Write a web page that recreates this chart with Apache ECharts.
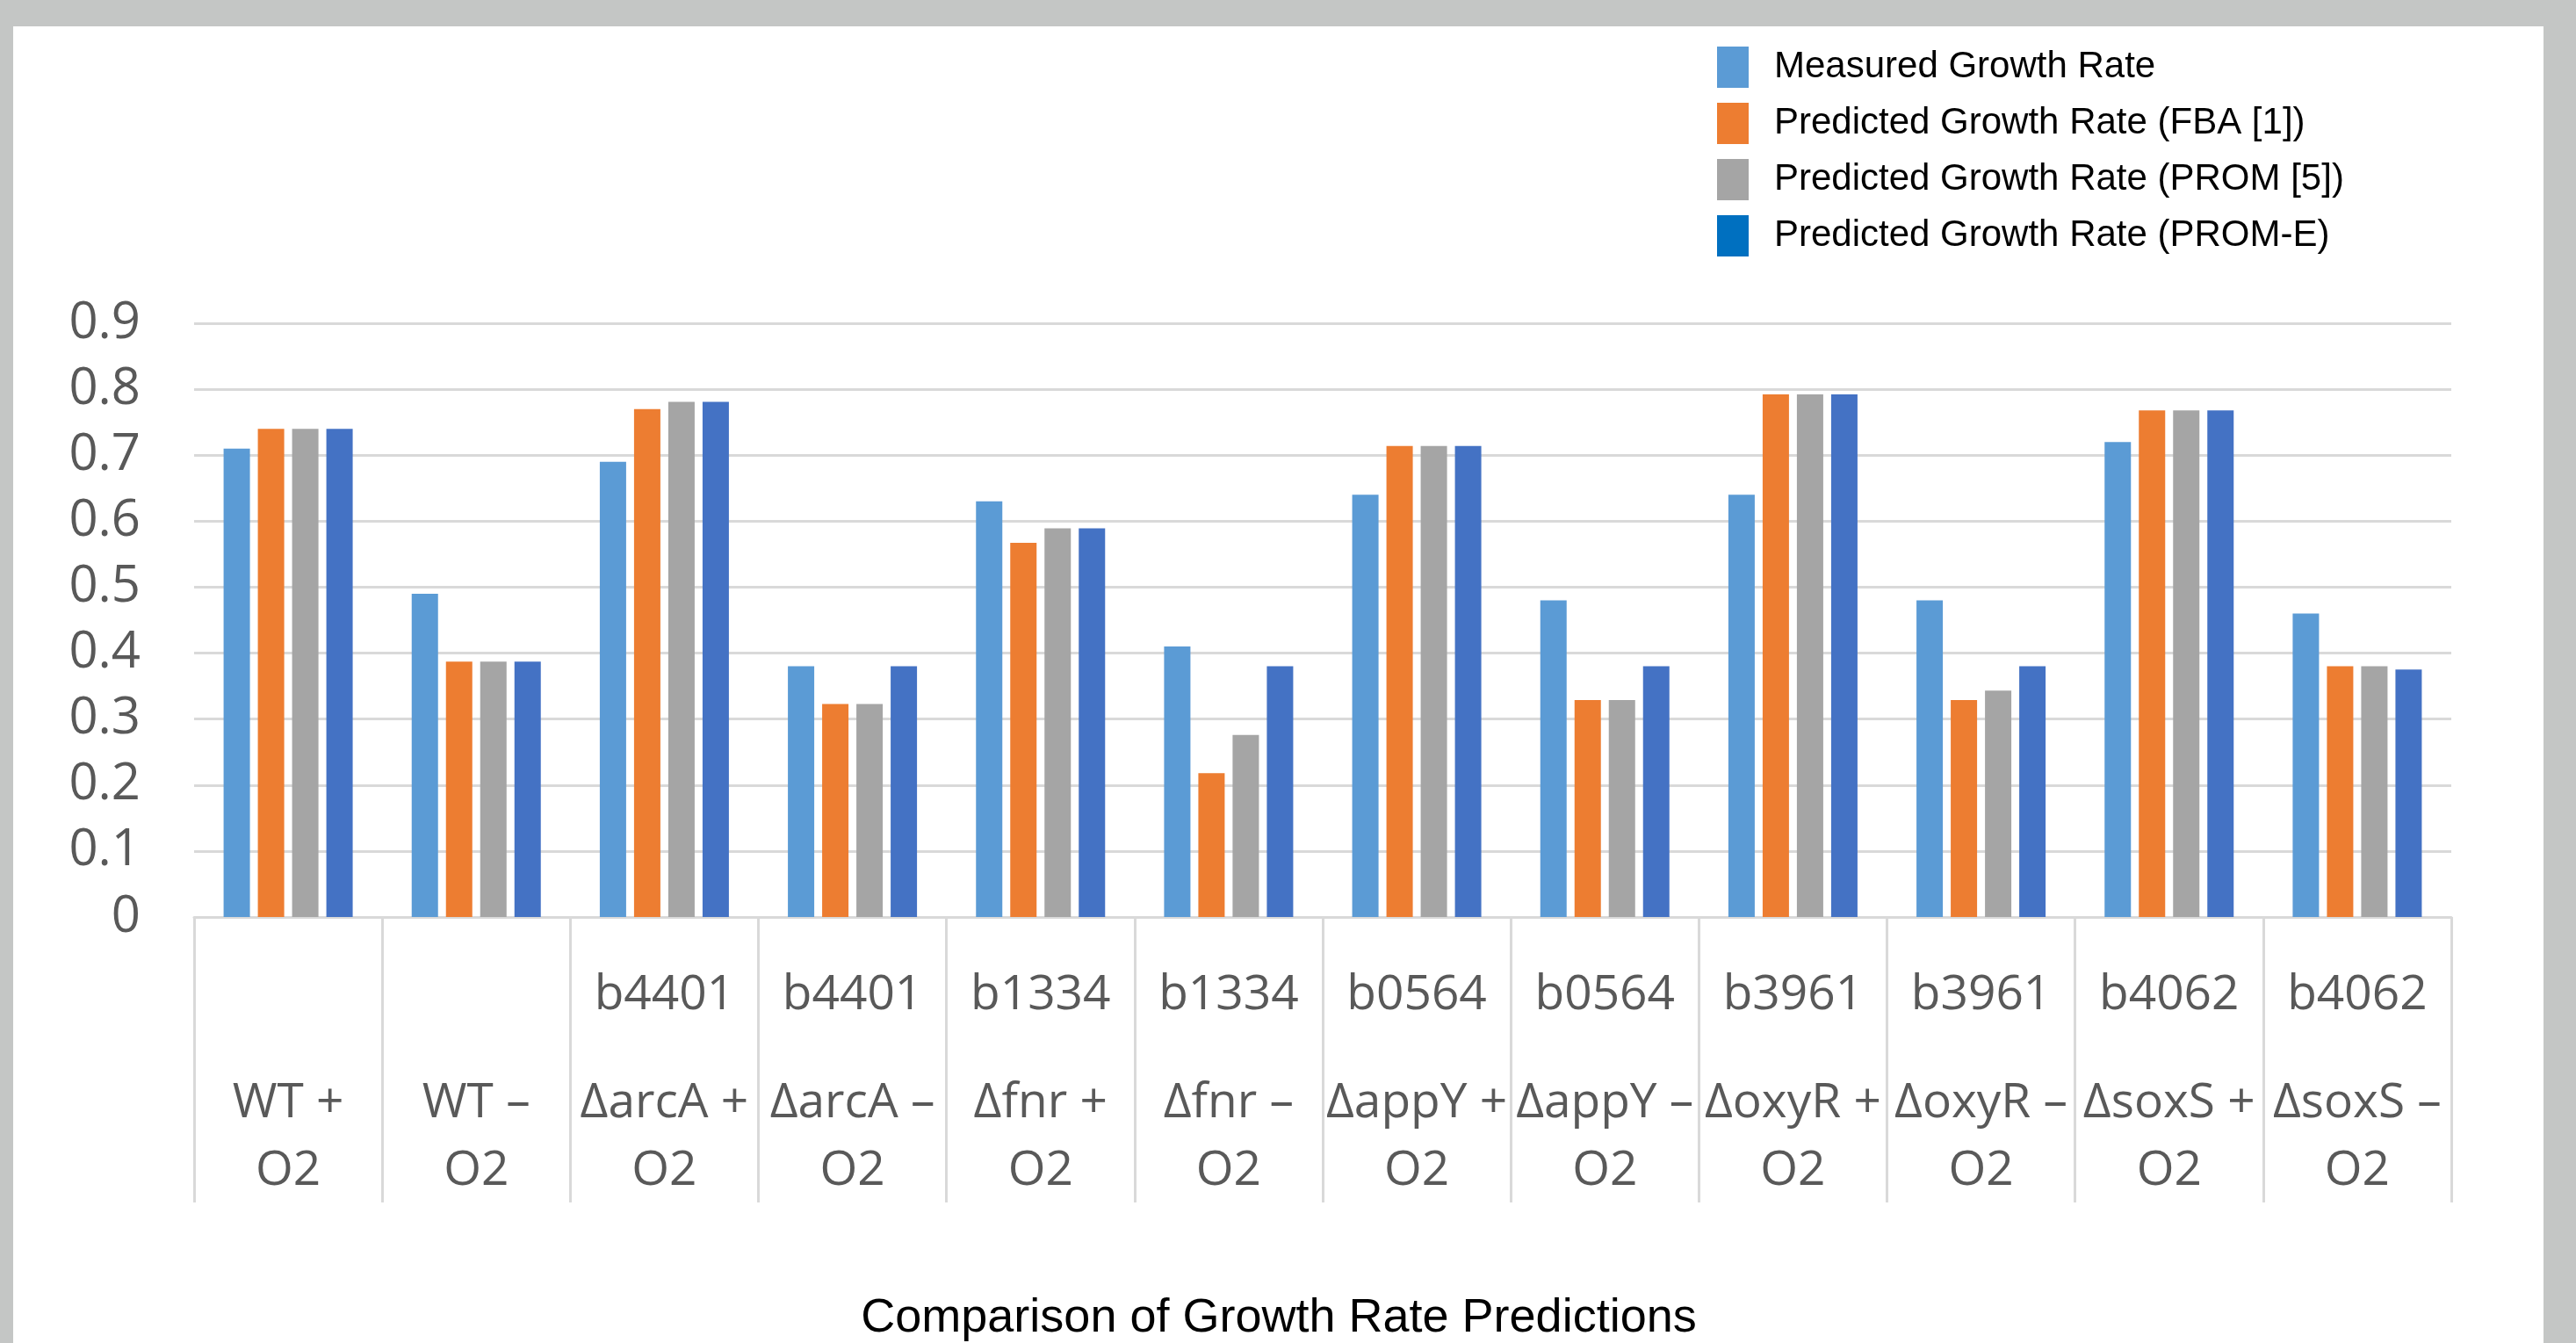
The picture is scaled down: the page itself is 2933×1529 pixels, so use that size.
<!DOCTYPE html>
<html>
<head>
<meta charset="utf-8">
<script src="https://cdn.jsdelivr.net/npm/echarts@6/dist/echarts.min.js"></script>
<style>
  html, body { margin: 0; padding: 0; width: 2933px; height: 1529px; background: #C4C6C5; overflow: hidden; }
  #panel { position: absolute; left: 15px; top: 30px; width: 2881px; height: 1499px; background: #ffffff; }
  #chart { position: absolute; left: 0; top: 0; width: 2933px; height: 1529px; }
</style>
</head>
<body>
<div id="panel"></div>
<div id="chart"></div>
<script>
// ---- data ----
const genes = ['', '', 'b4401', 'b4401', 'b1334', 'b1334', 'b0564', 'b0564', 'b3961', 'b3961', 'b4062', 'b4062'];
const strains = ['WT +', 'WT \u2013', '\u0394arcA +', '\u0394arcA \u2013', '\u0394fnr +', '\u0394fnr \u2013',
                 '\u0394appY +', '\u0394appY \u2013', '\u0394oxyR +', '\u0394oxyR \u2013', '\u0394soxS +', '\u0394soxS \u2013'];
const oxygenLine = 'O2';
const categories = strains.map((s, i) => (genes[i] ? genes[i] + ' ' : '') + s + ' ' + oxygenLine);

const seriesNames = ['Measured Growth Rate', 'Predicted Growth Rate (FBA [1])',
                     'Predicted Growth Rate (PROM [5])', 'Predicted Growth Rate (PROM-E)'];
const measured = [0.71, 0.49, 0.69, 0.38, 0.63, 0.41, 0.64, 0.48, 0.64, 0.48, 0.72, 0.46];
const fba      = [0.74, 0.387, 0.77, 0.323, 0.567, 0.218, 0.714, 0.329, 0.792, 0.329, 0.768, 0.38];
const prom     = [0.74, 0.387, 0.781, 0.323, 0.589, 0.276, 0.714, 0.329, 0.792, 0.343, 0.768, 0.38];
const promE    = [0.74, 0.387, 0.781, 0.38, 0.589, 0.38, 0.714, 0.38, 0.792, 0.38, 0.768, 0.375];
const yTicks = { min: 0, max: 0.9, interval: 0.1 };
const chartTitle = 'Comparison of Growth Rate Predictions';

// ---- styles ----
const barColors = ['#5B9BD5', '#ED7D31', '#A5A5A5', '#4472C4'];
const legendColors = ['#5B9BD5', '#ED7D31', '#A5A5A5', '#0070C0'];
const allValues = [measured, fba, prom, promE];

const chart = echarts.init(document.getElementById('chart'), null, { renderer: 'canvas' });

const option = {
  backgroundColor: 'transparent',
  animation: false,
  title: {
    text: chartTitle,
    left: 1451,
    top: 1469,
    textAlign: 'center',
    textStyle: { fontFamily: 'Liberation Sans, Arial, sans-serif', fontSize: 54, fontWeight: 'normal', color: '#000000' }
  },
  legend: {
    orient: 'vertical',
    left: 1950,
    top: 48,
    itemWidth: 36,
    itemHeight: 47,
    itemGap: 17,
    icon: 'rect',
    selectedMode: false,
    data: seriesNames.map((n, i) => ({ name: n, itemStyle: { color: legendColors[i] } })),
    textStyle: {
      fontFamily: 'Liberation Sans, Arial, sans-serif',
      fontSize: 42,
      color: '#000000',
      padding: [0, 0, 0, 24]
    }
  },
  grid: { left: 221, right: 142, top: 368, bottom: 485, containLabel: false },
  xAxis: {
    type: 'category',
    data: categories,
    boundaryGap: true,
    axisLine: { show: true, lineStyle: { color: '#D9D9D9', width: 3 } },
    axisTick: { show: true, length: 325, lineStyle: { color: '#D9D9D9', width: 3 } },
    axisLabel: {
      interval: 0,
      hideOverlap: false,
      margin: 4,
      formatter: function (value, index) {
        const g = genes[index] ? genes[index] : ' ';
        return '{g|' + g + '}\n{n|' + strains[index] + '}\n{n|' + oxygenLine + '}';
      },
      rich: {
        g: { fontFamily: 'Open Sans', fontSize: 55, color: '#595959', lineHeight: 170, align: 'center' },
        n: { fontFamily: 'Open Sans', fontSize: 55, color: '#595959', lineHeight: 77, align: 'center' }
      }
    },
    splitLine: { show: false }
  },
  yAxis: {
    type: 'value',
    min: yTicks.min,
    max: yTicks.max,
    interval: yTicks.interval,
    axisLine: { show: false },
    axisTick: { show: false },
    axisLabel: {
      margin: 61,
      fontFamily: 'Open Sans',
      fontSize: 58,
      color: '#595959',
      formatter: v => (Math.round(v * 10) / 10).toString()
    },
    splitLine: { show: true, lineStyle: { color: '#D9D9D9', width: 3 } }
  },
  series: seriesNames.map((n, i) => ({
    name: n,
    type: 'bar',
    data: allValues[i],
    barWidth: 30,
    barGap: '30%',
    itemStyle: { color: barColors[i] }
  }))
};

chart.setOption(option);
</script>
</body>
</html>
